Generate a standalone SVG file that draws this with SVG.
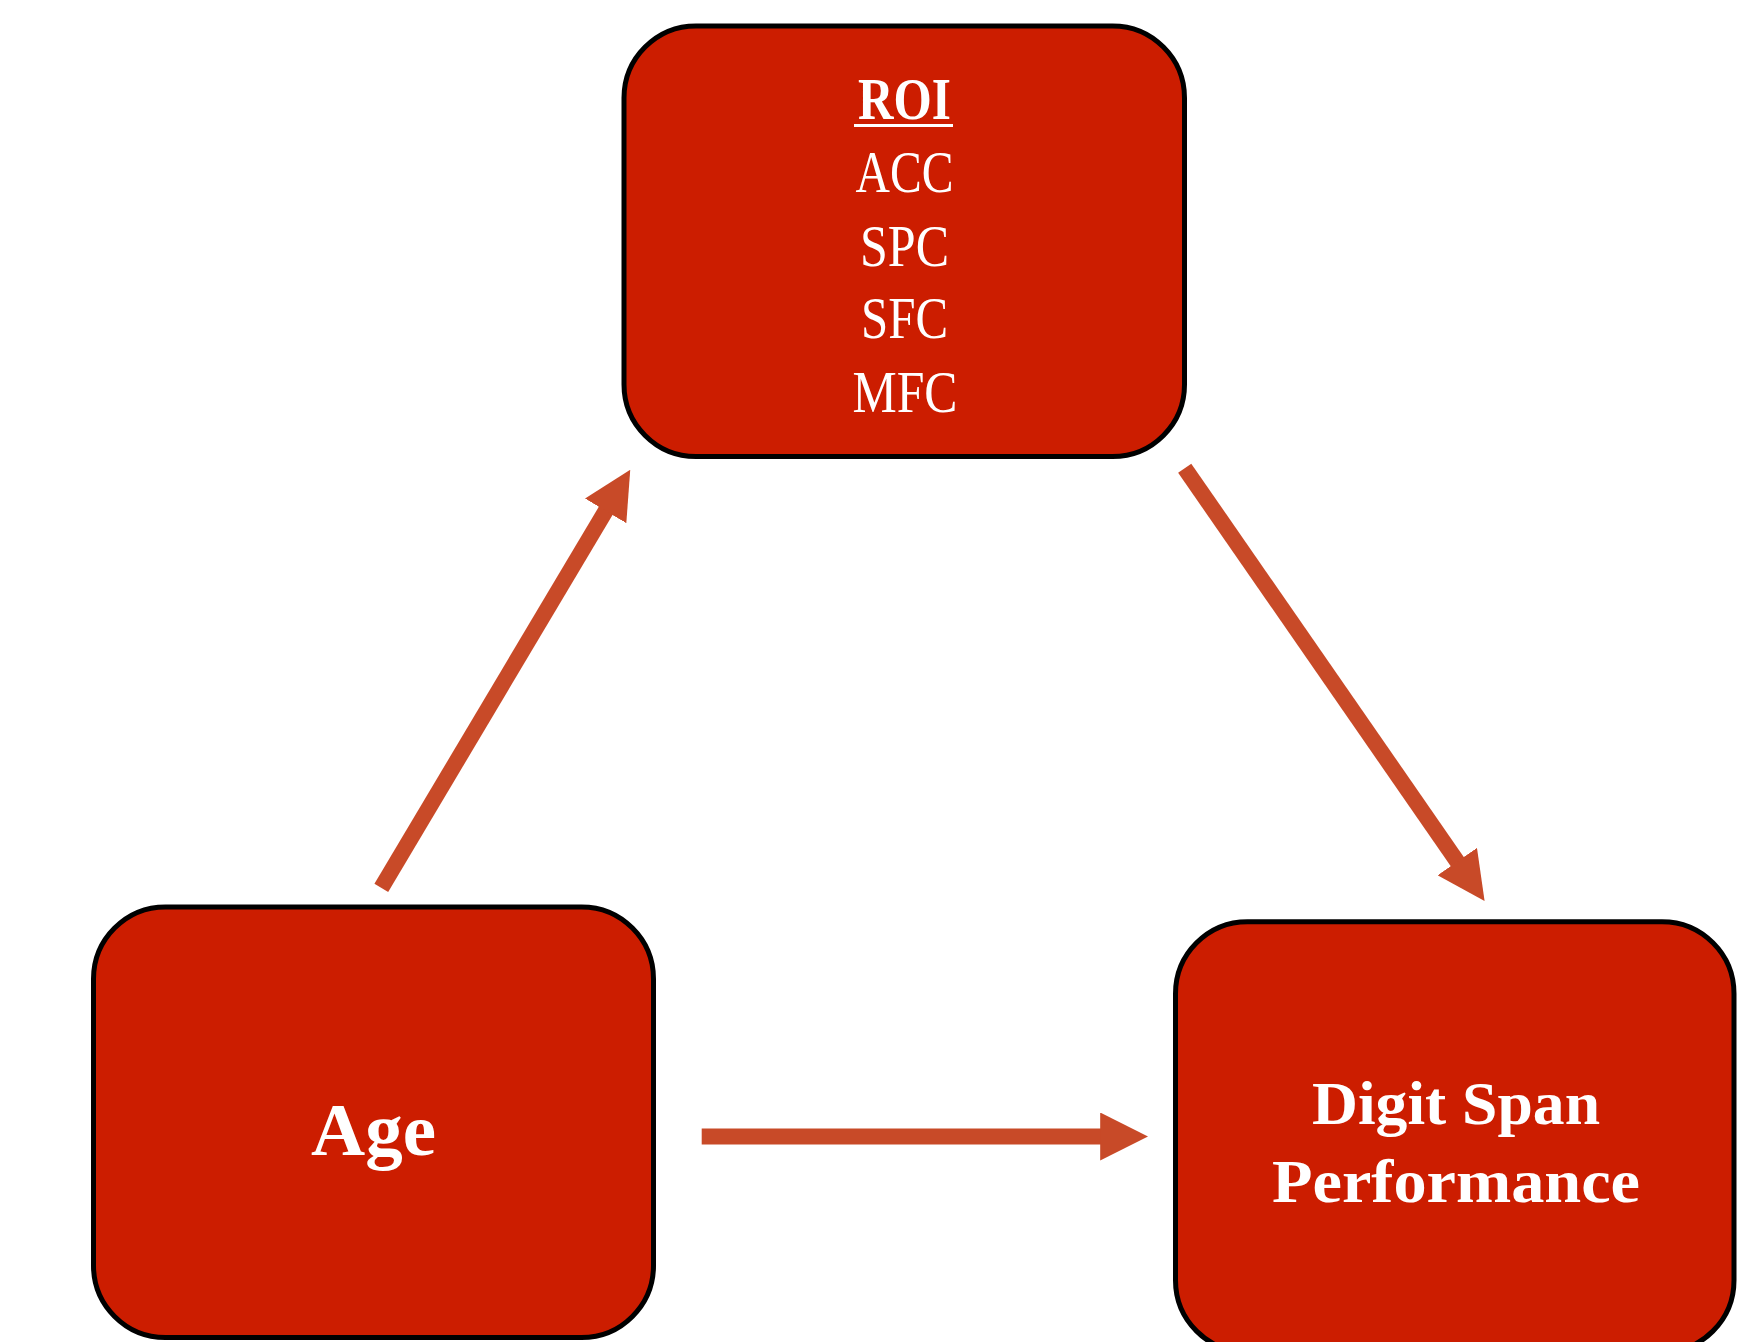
<svg xmlns="http://www.w3.org/2000/svg" width="1742" height="1342" viewBox="0 0 1742 1342">
  <style>
    .box { fill: #CC1D00; stroke: #000000; stroke-width: 5; }
    .lbl { fill: #FFFFFF; font-family: "Liberation Serif", "Times New Roman", serif; text-anchor: middle; }
    .b { font-weight: bold; }
    .conn { stroke: #C84A28; stroke-width: 16; fill: none; marker-end: url(#head); }
  </style>
  <defs>
    <marker id="head" viewBox="0 0 3 3" refX="0.05" refY="1.5" markerWidth="3" markerHeight="3" markerUnits="strokeWidth" orient="auto">
      <path d="M0,0 L3,1.5 L0,3 Z" fill="#C84A28"/>
    </marker>
  </defs>
  <rect width="1742" height="1342" fill="#FFFFFF"/>

  <!-- connectors -->
  <g id="connectors">
    <line class="conn" x1="381.3" y1="887.8" x2="606.1" y2="510.2"/>
    <line class="conn" x1="1184.7" y1="468.2" x2="1457.7" y2="862.2"/>
    <line class="conn" x1="701.7" y1="1136.5" x2="1101" y2="1136.5"/>
  </g>

  <!-- region of interest list -->
  <g id="roi">
    <rect class="box" x="624" y="26" width="560.5" height="430.5" rx="72" ry="72"/>
    <text class="lbl b" x="904.5" y="119" font-size="59" textLength="93" lengthAdjust="spacingAndGlyphs">ROI</text>
    <rect x="854" y="124" width="99" height="3" fill="#FFFFFF"/>
    <text class="lbl" x="904.5" y="192" font-size="59" textLength="98" lengthAdjust="spacingAndGlyphs">ACC</text>
    <text class="lbl" x="904.5" y="265.5" font-size="59" textLength="89" lengthAdjust="spacingAndGlyphs">SPC</text>
    <text class="lbl" x="904.5" y="338" font-size="59" textLength="87" lengthAdjust="spacingAndGlyphs">SFC</text>
    <text class="lbl" x="905" y="412" font-size="59" textLength="105" lengthAdjust="spacingAndGlyphs">MFC</text>
  </g>

  <!-- age -->
  <g id="age">
    <rect class="box" x="93.5" y="907" width="560" height="430.5" rx="72" ry="72"/>
    <text class="lbl b" x="373.5" y="1155" font-size="75" textLength="125" lengthAdjust="spacingAndGlyphs">Age</text>
  </g>

  <!-- outcome -->
  <g id="digit-span">
    <rect class="box" x="1175.5" y="921.7" width="558.5" height="430.5" rx="72" ry="72"/>
    <text class="lbl b" x="1456" y="1124" font-size="62" textLength="288" lengthAdjust="spacingAndGlyphs">Digit Span</text>
    <text class="lbl b" x="1456" y="1202" font-size="62" textLength="368" lengthAdjust="spacingAndGlyphs">Performance</text>
  </g>
</svg>
